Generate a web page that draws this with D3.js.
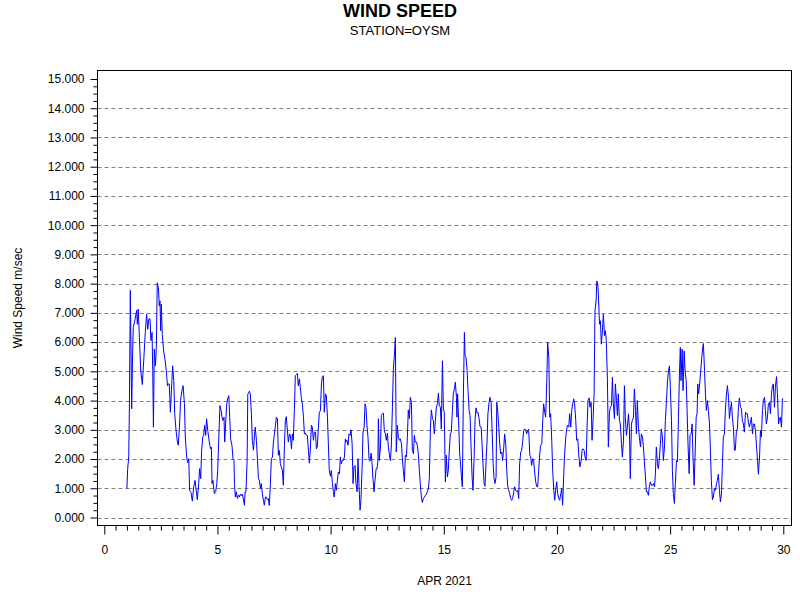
<!DOCTYPE html>
<html>
<head>
<meta charset="utf-8">
<script src="https://cdn.jsdelivr.net/npm/d3@7"></script>
<style>
  body { margin: 0; background: #fff; }
  svg { display: block; font-family: "Liberation Sans", Arial, sans-serif; }
</style>
</head>
<body>
<svg id="chart"></svg>
<script>
// Day of month (April 2021) for each reading
const days = [
  1.00,1.03,1.08,1.11,1.15,1.21,1.25,1.28,1.36,1.43,
  1.46,1.50,1.55,1.61,1.68,1.75,1.81,1.87,1.92,1.96,
  2.02,2.06,2.11,2.14,2.17,2.21,2.26,2.30,2.34,2.39,
  2.43,2.46,2.49,2.52,2.56,2.62,2.68,2.74,2.79,2.83,
  2.87,2.92,2.98,3.02,3.07,3.11,3.17,3.23,3.27,3.32,
  3.37,3.43,3.48,3.54,3.58,3.64,3.68,3.73,3.77,3.83,
  3.89,3.95,4.01,4.05,4.11,4.17,4.21,4.26,4.30,4.35,
  4.39,4.43,4.48,4.52,4.57,4.61,4.66,4.70,4.73,4.76,
  4.80,4.86,4.92,4.97,5.01,5.05,5.11,5.16,5.20,5.24,
  5.29,5.32,5.36,5.41,5.45,5.50,5.54,5.58,5.64,5.69,
  5.73,5.75,5.79,5.83,5.88,5.92,5.97,6.01,6.06,6.10,
  6.14,6.19,6.22,6.26,6.31,6.34,6.38,6.41,6.45,6.50,
  6.54,6.59,6.63,6.67,6.72,6.76,6.81,6.85,6.90,6.94,
  6.98,7.03,7.07,7.12,7.16,7.21,7.25,7.29,7.34,7.38,
  7.43,7.47,7.51,7.56,7.60,7.65,7.69,7.73,7.78,7.82,
  7.87,7.91,7.96,8.00,8.04,8.09,8.13,8.18,8.22,8.27,
  8.31,8.35,8.40,8.44,8.49,8.53,8.57,8.62,8.66,8.71,
  8.75,8.80,8.84,8.88,8.93,8.97,9.02,9.06,9.10,9.15,
  9.19,9.24,9.28,9.33,9.37,9.41,9.46,9.50,9.55,9.59,
  9.63,9.68,9.72,9.77,9.81,9.86,9.90,9.94,9.99,10.03,
  10.08,10.12,10.16,10.21,10.25,10.30,10.34,10.39,10.43,10.47,
  10.52,10.56,10.61,10.65,10.68,10.72,10.77,10.81,10.86,10.90,
  10.95,10.99,11.03,11.08,11.12,11.17,11.21,11.25,11.30,11.34,
  11.39,11.43,11.48,11.52,11.56,11.61,11.65,11.70,11.74,11.79,
  11.83,11.87,11.92,11.96,12.01,12.05,12.09,12.11,12.15,12.20,
  12.24,12.29,12.33,12.37,12.42,12.46,12.51,12.55,12.60,12.64,
  12.68,12.73,12.77,12.82,12.86,12.90,12.95,12.99,13.04,13.08,
  13.13,13.17,13.21,13.26,13.30,13.35,13.39,13.43,13.48,13.52,
  13.57,13.61,13.66,13.70,13.74,13.79,13.83,13.88,13.92,13.96,
  14.01,14.05,14.10,14.14,14.19,14.23,14.27,14.32,14.36,14.41,
  14.45,14.50,14.54,14.58,14.63,14.67,14.72,14.76,14.80,14.85,
  14.89,14.94,14.98,15.02,15.07,15.11,15.16,15.20,15.25,15.29,
  15.33,15.38,15.42,15.47,15.51,15.56,15.58,15.61,15.66,15.70,
  15.75,15.79,15.82,15.86,15.91,15.94,15.98,16.03,16.07,16.12,
  16.16,16.20,16.25,16.29,16.34,16.38,16.42,16.47,16.51,16.56,
  16.60,16.65,16.69,16.73,16.78,16.82,16.87,16.91,16.95,17.00,
  17.04,17.09,17.13,17.18,17.22,17.26,17.31,17.34,17.38,17.43,
  17.47,17.51,17.56,17.60,17.65,17.69,17.74,17.78,17.82,17.87,
  17.91,17.96,18.00,18.04,18.09,18.13,18.18,18.22,18.27,18.31,
  18.35,18.40,18.44,18.49,18.53,18.58,18.62,18.66,18.71,18.75,
  18.80,18.84,18.88,18.93,18.97,19.02,19.06,19.11,19.15,19.19,
  19.24,19.28,19.33,19.37,19.41,19.46,19.50,19.55,19.59,19.64,
  19.68,19.72,19.77,19.81,19.86,19.90,19.94,19.99,20.03,20.08,
  20.12,20.17,20.21,20.25,20.30,20.34,20.39,20.43,20.47,20.52,
  20.56,20.61,20.65,20.70,20.74,20.78,20.83,20.87,20.92,20.96,
  21.01,21.07,21.11,21.15,21.20,21.24,21.29,21.33,21.37,21.42,
  21.46,21.51,21.55,21.60,21.64,21.68,21.73,21.76,21.80,21.83,
  21.88,21.92,21.96,22.01,22.05,22.10,22.14,22.18,22.23,22.27,
  22.32,22.36,22.41,22.45,22.49,22.54,22.58,22.63,22.67,22.71,
  22.76,22.80,22.85,22.89,22.94,22.98,23.02,23.07,23.11,23.16,
  23.20,23.24,23.29,23.33,23.38,23.42,23.47,23.51,23.55,23.60,
  23.64,23.69,23.73,23.78,23.82,23.86,23.91,23.95,24.00,24.04,
  24.08,24.13,24.17,24.22,24.26,24.31,24.35,24.39,24.44,24.48,
  24.53,24.57,24.61,24.66,24.70,24.75,24.79,24.84,24.88,24.92,
  24.97,25.01,25.06,25.10,25.14,25.19,25.23,25.28,25.32,25.37,
  25.41,25.45,25.48,25.53,25.57,25.62,25.66,25.71,25.75,25.79,
  25.84,25.88,25.93,25.97,26.01,26.06,26.10,26.15,26.19,26.22,
  26.26,26.31,26.35,26.40,26.44,26.47,26.52,26.56,26.60,26.65,
  26.69,26.74,26.78,26.82,26.87,26.91,26.96,27.00,27.05,27.09,
  27.13,27.18,27.22,27.27,27.31,27.35,27.40,27.44,27.49,27.53,
  27.58,27.62,27.66,27.71,27.75,27.80,27.84,27.88,27.93,27.97,
  28.02,28.06,28.11,28.15,28.19,28.24,28.28,28.33,28.37,28.41,
  28.46,28.50,28.55,28.59,28.64,28.68,28.72,28.77,28.81,28.86,
  28.90,28.95,28.99,29.03,29.08,29.12,29.17,29.21,29.25,29.30,
  29.34,29.39,29.43,29.48,29.52,29.56,29.61,29.65,29.70,29.74,
  29.79,29.83,29.87,29.92,29.96,30.00
];

// Wind speed in m/sec, one per entry of days
const speeds = [
  0.99,1.64,2.07,3.89,7.77,3.72,5.59,6.50,6.78,7.09,
  6.61,7.13,6.16,5.02,4.55,5.48,6.33,6.95,6.44,6.78,
  6.80,6.05,6.33,5.02,3.09,5.76,5.19,5.82,8.03,7.86,
  7.24,7.41,6.39,7.30,6.27,5.70,5.42,5.02,4.51,4.57,
  4.57,3.60,4.57,5.19,4.68,3.55,2.98,2.58,2.47,3.09,
  4.00,4.34,4.51,3.89,2.75,2.07,1.88,2.01,0.93,0.85,
  0.56,1.05,1.27,0.99,0.61,1.16,1.67,1.33,2.30,2.75,
  2.81,3.15,2.81,3.38,2.98,2.75,2.47,2.35,2.41,1.16,
  1.27,0.82,0.88,1.16,1.61,2.52,3.83,3.66,3.43,3.32,
  3.43,2.58,3.20,3.89,4.06,4.17,3.43,2.69,2.47,1.99,
  1.95,1.16,0.70,0.88,0.65,0.76,0.70,0.80,0.74,0.80,
  0.65,0.42,0.88,0.88,1.95,4.23,4.25,4.32,4.23,3.55,
  2.64,2.30,2.75,3.09,2.64,2.07,1.33,1.27,0.99,1.16,
  0.82,0.59,0.42,0.70,0.70,0.61,0.64,0.41,1.16,2.01,
  2.07,2.58,2.81,3.15,3.43,3.38,2.13,2.30,1.84,1.73,
  1.61,1.10,2.47,3.32,3.45,2.98,2.58,2.86,2.81,2.35,
  2.86,2.64,3.72,4.85,4.89,4.93,4.51,4.74,4.45,4.06,
  3.89,3.43,2.86,2.89,2.81,2.81,2.30,1.86,2.30,3.15,
  3.09,2.64,2.92,2.92,2.35,2.41,3.09,3.60,3.66,4.51,
  4.80,4.85,3.60,4.23,4.17,3.43,2.52,1.61,1.41,1.61,
  1.16,0.88,0.70,1.16,0.93,1.27,1.56,1.50,2.07,1.84,
  1.95,1.95,2.07,2.69,2.58,2.64,2.47,2.86,2.81,3.00,
  2.52,1.16,1.73,1.78,1.16,0.88,2.01,1.16,0.25,0.59,
  1.73,2.92,3.09,3.89,3.77,3.09,2.75,1.95,1.93,2.20,
  1.84,1.33,0.88,1.27,1.67,1.67,1.95,3.38,1.95,2.41,
  3.49,3.55,3.57,2.98,2.86,2.64,2.89,2.41,2.13,1.95,
  2.41,3.77,5.02,5.59,6.16,2.24,3.15,2.75,2.64,2.69,
  2.52,2.01,1.61,1.22,2.13,2.07,2.75,3.68,3.38,4.11,
  3.94,2.30,2.18,2.81,2.58,2.58,2.47,2.13,1.61,1.16,
  0.70,0.51,0.65,0.70,0.76,0.80,0.88,0.99,1.33,3.09,
  3.68,3.38,3.32,2.86,3.32,3.77,3.89,4.25,3.83,3.77,
  3.03,5.36,3.72,3.60,1.22,2.13,1.39,1.61,2.41,2.86,
  2.92,3.66,4.23,4.40,4.63,4.11,3.43,4.23,3.20,2.18,
  1.73,1.27,1.05,3.89,6.33,5.53,5.50,5.02,4.34,3.66,
  3.49,2.52,1.39,0.93,2.07,3.32,3.75,3.57,3.60,3.38,
  3.11,3.09,2.52,1.84,1.16,1.07,1.95,2.58,3.55,3.94,
  4.11,3.94,3.09,1.84,1.33,1.16,1.39,3.94,3.66,3.09,
  2.52,2.18,2.24,1.95,2.41,2.86,2.47,1.61,1.10,0.93,
  0.82,0.65,0.59,0.65,0.88,1.05,0.93,0.88,0.93,0.65,
  1.84,2.24,2.30,2.64,2.98,3.03,3.00,2.86,2.98,3.02,
  2.13,2.07,1.78,2.01,1.95,1.50,1.22,1.05,1.05,1.61,
  2.18,2.47,2.52,3.32,3.89,3.60,3.43,4.68,5.99,5.48,
  3.43,3.55,2.64,1.61,0.93,0.59,0.93,1.22,0.82,0.65,
  0.59,0.82,0.99,0.42,1.50,2.18,2.75,3.03,3.15,3.09,
  3.55,3.09,3.66,3.89,4.06,3.89,3.32,2.64,2.69,2.18,
  1.73,1.95,2.30,2.35,2.30,2.07,1.95,3.09,4.00,4.09,
  3.77,3.94,2.64,3.43,4.23,7.07,7.41,8.09,7.98,7.64,
  6.61,6.73,5.93,6.39,6.95,6.22,6.39,6.05,4.68,2.41,
  3.60,3.77,3.83,4.80,3.89,3.38,4.57,4.00,3.49,4.23,
  3.32,3.20,2.52,2.07,2.64,4.51,3.43,2.81,3.09,3.55,
  3.03,1.33,3.20,3.32,3.43,4.40,3.66,2.86,4.00,3.09,
  2.75,2.41,2.86,2.75,2.41,1.95,1.39,0.88,0.88,0.76,
  1.05,1.22,1.10,1.10,1.16,1.05,1.50,2.41,1.84,1.67,
  2.07,2.52,3.03,2.75,1.95,2.41,3.32,4.00,4.63,4.97,
  5.19,4.45,3.32,1.61,0.82,0.48,1.16,1.95,1.90,3.43,
  4.91,5.82,4.68,5.76,4.34,5.70,5.02,4.68,3.66,2.52,
  1.50,2.81,2.86,3.20,2.07,1.10,2.07,3.43,3.55,4.57,
  4.23,4.63,5.02,5.48,5.82,5.95,5.02,4.23,3.66,4.00,
  3.66,3.20,2.30,1.27,0.61,0.70,0.99,0.93,1.16,1.27,
  1.48,0.93,0.53,0.82,1.84,2.75,2.86,3.66,4.23,4.51,
  4.11,3.38,3.66,3.94,3.43,3.03,2.30,2.30,2.98,3.03,
  3.77,4.09,3.77,3.72,3.32,3.20,2.92,3.60,3.55,3.55,
  3.26,3.09,3.26,3.43,2.86,3.20,3.20,2.98,2.52,1.95,
  1.48,2.07,2.98,2.75,3.66,4.00,4.11,3.66,3.20,3.43,
  3.89,3.94,3.55,4.23,4.51,4.57,3.77,4.45,4.82,4.23,
  3.20,3.38,3.43,3.09,4.06,4.06
];

const yTicks = d3.range(0, 16);           // 0.000 .. 15.000
const yMinor = d3.range(0, 15.01, 0.25).filter(d => d % 1 !== 0);
const xTicks = [0, 5, 10, 15, 20, 25, 30];
const xMinor = d3.range(0, 30.01, 0.5).filter(d => d % 5 !== 0);

const width = 800;
const height = 600;
// plot frame
const frame = { left: 97.5, top: 70.5, right: 791.5, bottom: 525.5 };

const svg = d3.select("#chart")
    .attr("width", width)
    .attr("height", height);

const x = d3.scaleLinear().domain([0, 30]).range([104.3, 783.3]);
const y = d3.scaleLinear().domain([0, 15]).range([517.5, 79]);

// dashed reference lines at each whole m/sec
svg.append("g")
    .selectAll("line")
    .data(yTicks.filter(d => d < 15))
    .join("line")
    .attr("x1", frame.left)
    .attr("x2", frame.right)
    .attr("y1", d => Math.round(y(d)) + 0.5)
    .attr("y2", d => Math.round(y(d)) + 0.5)
    .attr("stroke", "#808080")
    .attr("stroke-dasharray", "4,3");

// the series
const line = d3.line()
    .x(i => x(days[i]))
    .y(i => y(speeds[i]));

svg.append("path")
    .datum(d3.range(days.length))
    .attr("fill", "none")
    .attr("stroke", "#0000ff")
    .attr("stroke-width", 1)
    .attr("d", line);

// frame
svg.append("rect")
    .attr("x", frame.left)
    .attr("y", frame.top)
    .attr("width", frame.right - frame.left)
    .attr("height", frame.bottom - frame.top)
    .attr("fill", "none")
    .attr("stroke", "#000");

// y axis (major + minor ticks)
const yAxis = svg.append("g")
    .attr("transform", `translate(${frame.left},0)`)
    .call(d3.axisLeft(y).tickValues(yTicks).tickSize(7).tickPadding(6).tickFormat(d3.format(".3f")));
svg.append("g")
    .attr("transform", `translate(${frame.left},0)`)
    .call(d3.axisLeft(y).tickValues(yMinor).tickSize(4).tickFormat(""));

// x axis (major + minor ticks)
const xAxis = svg.append("g")
    .attr("transform", `translate(0,${frame.bottom})`)
    .call(d3.axisBottom(x).tickValues(xTicks).tickSize(9).tickPadding(11));
svg.append("g")
    .attr("transform", `translate(0,${frame.bottom})`)
    .call(d3.axisBottom(x).tickValues(xMinor).tickSize(5).tickFormat(""));

svg.selectAll(".domain").remove();
svg.selectAll(".tick line").attr("stroke", "#000");
svg.selectAll(".tick text")
    .attr("fill", "#000")
    .style("font-size", "12px")
    .style("font-family", '"Liberation Sans", Arial, sans-serif');

// titles
svg.append("text")
    .attr("x", 400)
    .attr("y", 17)
    .attr("text-anchor", "middle")
    .style("font-size", "18px")
    .style("font-weight", "bold")
    .text("WIND SPEED");

svg.append("text")
    .attr("x", 400)
    .attr("y", 35)
    .attr("text-anchor", "middle")
    .style("font-size", "13px")
    .text("STATION=OYSM");

svg.append("text")
    .attr("x", (frame.left + frame.right) / 2)
    .attr("y", 585)
    .attr("text-anchor", "middle")
    .style("font-size", "12px")
    .text("APR 2021");

svg.append("text")
    .attr("transform", `translate(22,${(frame.top + frame.bottom) / 2}) rotate(-90)`)
    .attr("text-anchor", "middle")
    .style("font-size", "12px")
    .text("Wind Speed m/sec");
</script>
</body>
</html>
